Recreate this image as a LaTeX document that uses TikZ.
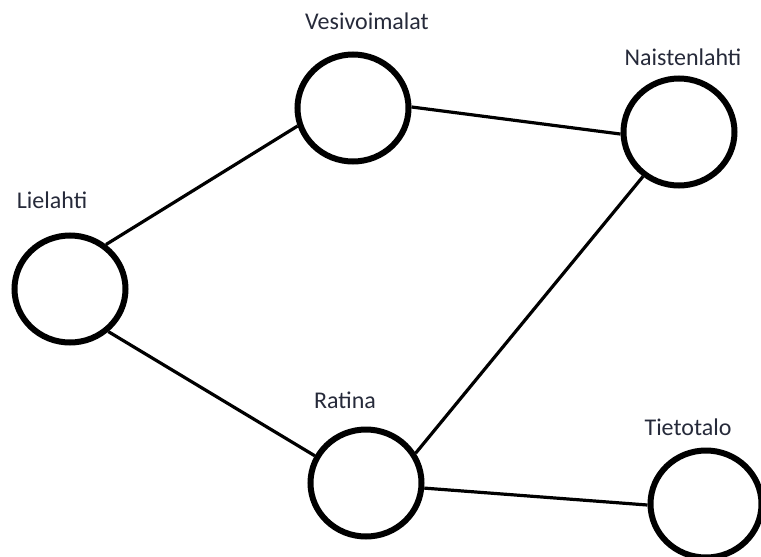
\documentclass[tikz,border=0pt]{standalone}
\usepackage{fontspec}
\setmainfont{Carlito}
\usetikzlibrary{shapes.geometric}
\definecolor{labelink}{RGB}{38,42,58}
\tikzset{station/.style = {ellipse, draw, line width=6pt, inner sep=0pt,
                           minimum width=111pt, minimum height=107pt},
         place/.style = {font=\fontsize{24}{28}\selectfont, text=labelink},
         track/.style = {line width=3.2pt}}

\begin{document}
\begin{tikzpicture}[x=1pt, y=-1pt]
      \useasboundingbox (0, 0) rectangle (761, 557);

      \node [station] (lielahti) at (70, 289) {};
      \node [station] (vesivoimalat) at (353, 108) {};
      \node [station] (naistenlahti) at (679, 132) {};
      \node [station] (ratina) at (366, 483) {};
      \node [station] (tietotalo) at (706, 504) {};

      \node [place] (lielahti-name) at (52, 200) {Lielahti};
      \node [place] (vesivoimalat-name) at (367, 21) {Vesivoimalat};
      \node [place] (naistenlahti-name) at (683, 57) {Naistenlahti};
      \node [place] (ratina-name) at (345, 400) {Ratina};
      \node [place] (tietotalo-name) at (688, 427) {Tietotalo};

      \draw [track] (lielahti.51) -- (vesivoimalat.198);
      \draw [track] (vesivoimalat.1) -- (naistenlahti.182);
      \draw [track] (lielahti.-48) -- (ratina.152);
      \draw [track] (ratina.31) -- (naistenlahti.231);
      \draw [track] (ratina.-5) -- (tietotalo.181);
    \end{tikzpicture}
\end{document}
